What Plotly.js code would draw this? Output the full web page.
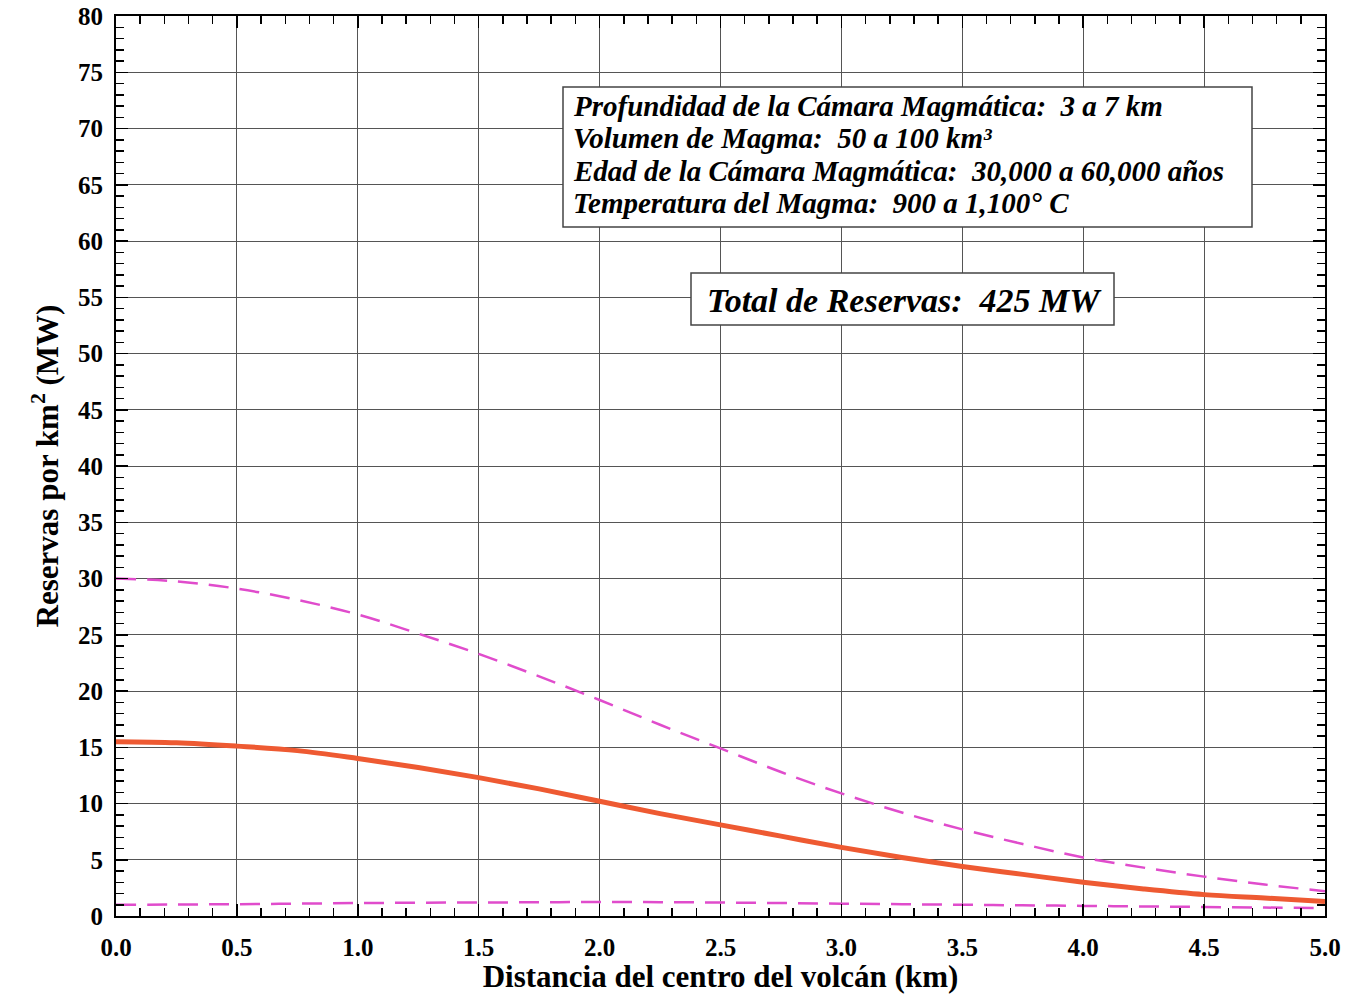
<!DOCTYPE html>
<html><head><meta charset="utf-8">
<script src="https://cdn.plot.ly/plotly-3.0.1.min.js"></script>
<style>html,body{margin:0;padding:0;background:#fff}#chart{width:1351px;height:994px}</style>
</head><body><div id="chart"></div>
<script>
const distance = [0, 0.25, 0.5, 0.75, 1.0, 1.25, 1.5, 1.75, 2.0, 2.25, 2.5, 2.75, 3.0, 3.25, 3.5, 3.75, 4.0, 4.25, 4.5, 4.75, 5.0];
const reservesMean = [15.5, 15.4, 15.1, 14.7, 14.0, 13.2, 12.3, 11.3, 10.2, 9.1, 8.1, 7.1, 6.1, 5.2, 4.4, 3.7, 3.0, 2.4, 1.9, 1.6, 1.3];
const reservesHigh = [30.0, 29.75, 29.1, 28.1, 26.8, 25.1, 23.3, 21.3, 19.2, 17.0, 14.9, 12.8, 10.9, 9.2, 7.7, 6.4, 5.2, 4.3, 3.5, 2.8, 2.2];
const reservesLow = [1.0, 1.02, 1.05, 1.1, 1.15, 1.18, 1.2, 1.22, 1.25, 1.23, 1.2, 1.15, 1.1, 1.05, 1.0, 0.95, 0.9, 0.85, 0.8, 0.75, 0.7];
const infoLines = [
  "Profundidad de la Cámara Magmática:  3 a 7 km",
  "Volumen de Magma:  50 a 100 km³",
  "Edad de la Cámara Magmática:  30,000 a 60,000 años",
  "Temperatura del Magma:  900 a 1,100° C"
];
const totalText = "Total de Reservas:  425 MW";

const serif = "Liberation Serif, Times New Roman, serif";
const traces = [
  {x: distance, y: reservesHigh, mode: "lines", line: {color: "#e04ccc", width: 2.5, dash: "20px,11px", shape: "spline"}},
  {x: distance, y: reservesLow, mode: "lines", line: {color: "#e04ccc", width: 2.5, dash: "20px,11px", shape: "spline"}},
  {x: distance, y: reservesMean, mode: "lines", line: {color: "#ee5a32", width: 5, shape: "spline"}}
];
const axisCommon = {
  showline: true, linecolor: "#000", linewidth: 2, mirror: "ticks",
  ticks: "inside", ticklen: 12, tickwidth: 1.5, tickcolor: "#000",
  showgrid: true, gridcolor: "#555", gridwidth: 1, zeroline: false,
  tickfont: {family: serif, size: 25, color: "#000", weight: "bold"}
};
const annotations = infoLines.map((t, i) => ({
  xref: "paper", yref: "paper", x: (571-116)/1209, y: (916-(106+i*32.3))/900,
  xanchor: "left", yanchor: "middle", showarrow: false, text: t,
  font: {family: serif, size: 29, color: "#000", weight: "bold", style: "italic"}
}));
annotations.push({
  xref: "paper", yref: "paper", x: (904-116)/1209, y: (916-300)/900,
  xanchor: "center", yanchor: "middle", showarrow: false, text: totalText,
  font: {family: serif, size: 34, color: "#000", weight: "bold", style: "italic"}
});
const layout = {
  width: 1351, height: 994,
  margin: {l: 116, r: 26, t: 16, b: 78},
  paper_bgcolor: "#fff", plot_bgcolor: "#fff",
  showlegend: false,
  xaxis: Object.assign({}, axisCommon, {
    range: [0, 5], dtick: 0.5, tick0: 0, tickformat: ".1f", ticklabelstandoff: 8,
    minor: {dtick: 0.1, ticks: "inside", ticklen: 8, tickcolor: "#000", tickwidth: 1.5, showgrid: false},
    title: {text: "Distancia del centro del volcán (km)", font: {family: serif, size: 31, color: "#000", weight: "bold"}, standoff: 6}
  }),
  yaxis: Object.assign({}, axisCommon, {
    range: [0, 80], dtick: 5, tick0: 0, ticklabelstandoff: 6,
    minor: {dtick: 1, ticks: "inside", ticklen: 8, tickcolor: "#000", tickwidth: 1.5, showgrid: false},
    title: {text: "Reservas por km<sup>2</sup> (MW)", font: {family: serif, size: 31, color: "#000", weight: "bold"}, standoff: 10}
  }),
  shapes: [
    {type: "rect", xref: "paper", yref: "paper", x0: (563-116)/1209, x1: (1252-116)/1209, y0: (916-227)/900, y1: (916-87)/900, fillcolor: "#fff", line: {color: "#444", width: 1.5}, layer: "above"},
    {type: "rect", xref: "paper", yref: "paper", x0: (691-116)/1209, x1: (1114-116)/1209, y0: (916-325)/900, y1: (916-273)/900, fillcolor: "#fff", line: {color: "#444", width: 1.5}, layer: "above"}
  ],
  annotations: annotations
};
Plotly.newPlot("chart", traces, layout, {displayModeBar: false, staticPlot: true});
</script></body></html>
